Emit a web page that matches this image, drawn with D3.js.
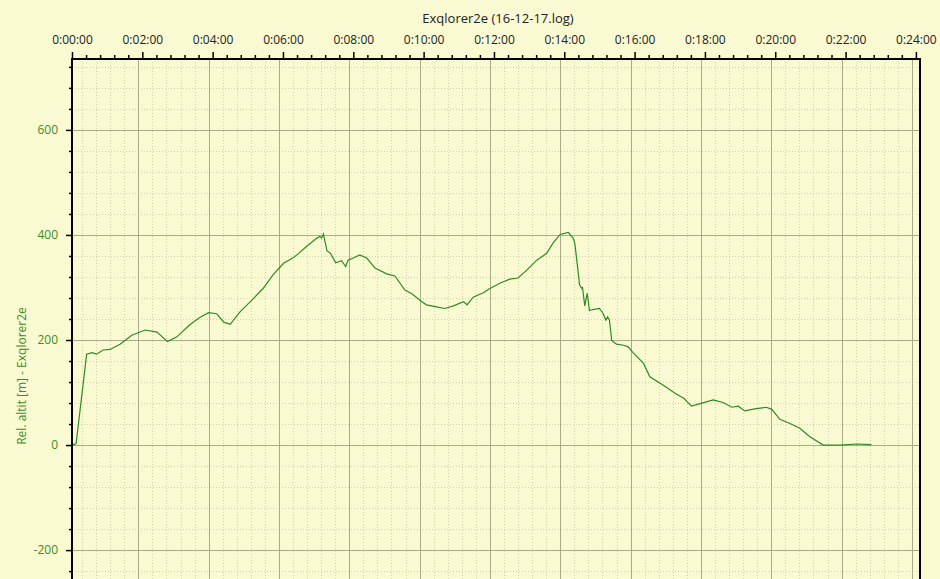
<!DOCTYPE html>
<html><head><meta charset="utf-8">
<script src="https://cdn.jsdelivr.net/npm/d3@7/dist/d3.min.js"></script>
<style>
html,body{margin:0;padding:0;background:#FAFAD2;}
svg{display:block;font-family:"Open Sans",sans-serif;}
</style></head>
<body>
<svg id="c" width="940" height="579"></svg>
<script>
const chartTitle = "Exqlorer2e (16-12-17.log)";
const yTitle = "Rel. altit [m] - Exqlorer2e";
// elapsed seconds
const timeSec = [0,1,7,25,34,42,53,65,82,102,125,145,163,179,201,218,233,247,259,270,287,307,326,343,361,378,386,400,418,423,426,429,435,441,450,460,467,471,480,491,503,517,537,551,568,580,597,605,622,636,651,668,674,685,702,713,730,747,761,776,793,810,821,833,847,855,858,862,866,870,871,875,879,883,889,900,906,911,914,917,921,929,941,949,958,975,986,1009,1031,1044,1057,1072,1094,1111,1126,1137,1148,1165,1185,1194,1208,1225,1242,1259,1282,1310,1339,1364];
// relative altitude (m)
const altitude = [0,0,3,173,176,173,181,182,192,209,219,215,197,206,229,243,252,250,234,230,254,276,298,324,346,357,364,378,394,397,394,402,370,365,347,351,340,352,356,362,356,337,326,322,295,288,273,267,263,260,265,273,267,282,290,298,308,316,318,333,352,365,385,401,405,394,384,346,305,298,301,265,289,256,258,260,251,238,244,238,199,192,190,187,175,156,130,114,97,89,74,79,86,81,72,74,65,69,72,68,49,41,32,16,0,0,2,1];
const xTickSec = [0,120,240,360,480,600,720,840,960,1080,1200,1320,1440];
const yTickVals = [-200,0,200,400,600];

const svg = d3.select("#c");
const L=72, R=920, T=59, B=579;
const x = d3.scaleLinear().domain([0,1447]).range([L,R]);
const y = d3.scaleLinear().domain([735,-255]).range([T,B]);
const fmt = s => { const h=Math.floor(s/3600), m=Math.floor(s%3600/60), ss=s%60; return h+":"+String(m).padStart(2,"0")+":"+String(ss).padStart(2,"0"); };

svg.append("rect").attr("width",940).attr("height",579).attr("fill","#FAFAD2");

const clip = svg.append("clipPath").attr("id","pc").append("rect").attr("x",L).attr("y",T).attr("width",R-L).attr("height",B-T);
const grid = svg.append("g").attr("clip-path","url(#pc)");
const gOff = -4;
// minor grid
const xMinor = d3.range(0,1500,24).filter(v=>v%120!==0);
grid.selectAll(".vm").data(xMinor).join("line")
  .attr("x1",d=>Math.round(x(d)+gOff)+0.5).attr("x2",d=>Math.round(x(d)+gOff)+0.5)
  .attr("y1",T).attr("y2",B).attr("stroke","#d2d2ae").attr("stroke-dasharray","1,2");
const yMinor = d3.range(-240,760,40).filter(v=>v%200!==0);
grid.selectAll(".hm").data(yMinor).join("line")
  .attr("y1",d=>Math.round(y(d))+0.5).attr("y2",d=>Math.round(y(d))+0.5)
  .attr("x1",L).attr("x2",R).attr("stroke","#d2d2ae").attr("stroke-dasharray","1,2");
// major grid
grid.selectAll(".vM").data(d3.range(120,1500,120)).join("line")
  .attr("x1",d=>Math.round(x(d)+gOff)+0.5).attr("x2",d=>Math.round(x(d)+gOff)+0.5)
  .attr("y1",T).attr("y2",B).attr("stroke","#aaa98a");
grid.selectAll(".hM").data(yTickVals).join("line")
  .attr("y1",d=>Math.round(y(d))+0.5).attr("y2",d=>Math.round(y(d))+0.5)
  .attr("x1",L).attr("x2",R).attr("stroke","#aaa98a");

// data line
const line = d3.line().x((d,i)=>x(timeSec[i])).y(d=>y(d));
svg.append("path").datum(altitude).attr("d",line).attr("fill","none")
  .attr("stroke","#2e8b22").attr("stroke-width",1.2).attr("clip-path","url(#pc)");

// top axis
const xAxisMinor = d3.axisTop(x).tickValues(d3.range(0,1441,24).filter(v=>v%120!==0)).tickSize(4).tickFormat("");
const xAxis = d3.axisTop(x).tickValues(xTickSec).tickSize(7).tickPadding(8).tickFormat(fmt);
const gxm = svg.append("g").attr("transform",`translate(0,${T})`).call(xAxisMinor);
const gx = svg.append("g").attr("transform",`translate(0,${T})`).call(xAxis);
[gx,gxm].forEach(g=>{g.select(".domain").remove(); g.selectAll("line").attr("stroke","#000").attr("stroke-width",1.5);});
gx.selectAll("text").attr("fill","#222").style("font-size","12px").style("font-family","'Open Sans',sans-serif");
svg.append("line").attr("x1",L-1).attr("x2",R+1).attr("y1",T).attr("y2",T).attr("stroke","#000").attr("stroke-width",2);

// left axis
const yAxisMinor = d3.axisLeft(y).tickValues(d3.range(-240,760,40).filter(v=>v%200!==0)).tickSize(3).tickFormat("");
const yAxis = d3.axisLeft(y).tickValues(yTickVals).tickSize(6).tickPadding(8).tickFormat(d=>String(d));
const gym = svg.append("g").attr("transform",`translate(${L},0)`).call(yAxisMinor);
const gy = svg.append("g").attr("transform",`translate(${L},0)`).call(yAxis);
[gy,gym].forEach(g=>{g.select(".domain").remove(); g.selectAll("line").attr("stroke","#000").attr("stroke-width",1.5);});
gy.selectAll("text").attr("fill","#3c8c1e").style("font-size","12px").style("font-family","'Open Sans',sans-serif");
svg.append("line").attr("x1",L).attr("x2",L).attr("y1",T-1).attr("y2",B).attr("stroke","#000").attr("stroke-width",2);
svg.append("line").attr("x1",R).attr("x2",R).attr("y1",T-1).attr("y2",B).attr("stroke","#000").attr("stroke-width",2);

// titles
svg.append("text").attr("x",498).attr("y",23).attr("text-anchor","middle")
  .attr("fill","#222").style("font-size","13px").text(chartTitle);
svg.append("text").attr("transform","translate(26,376) rotate(-90)").attr("text-anchor","middle")
  .attr("fill","#3c8c1e").style("font-size","12px").text(yTitle);
</script>
</body></html>
